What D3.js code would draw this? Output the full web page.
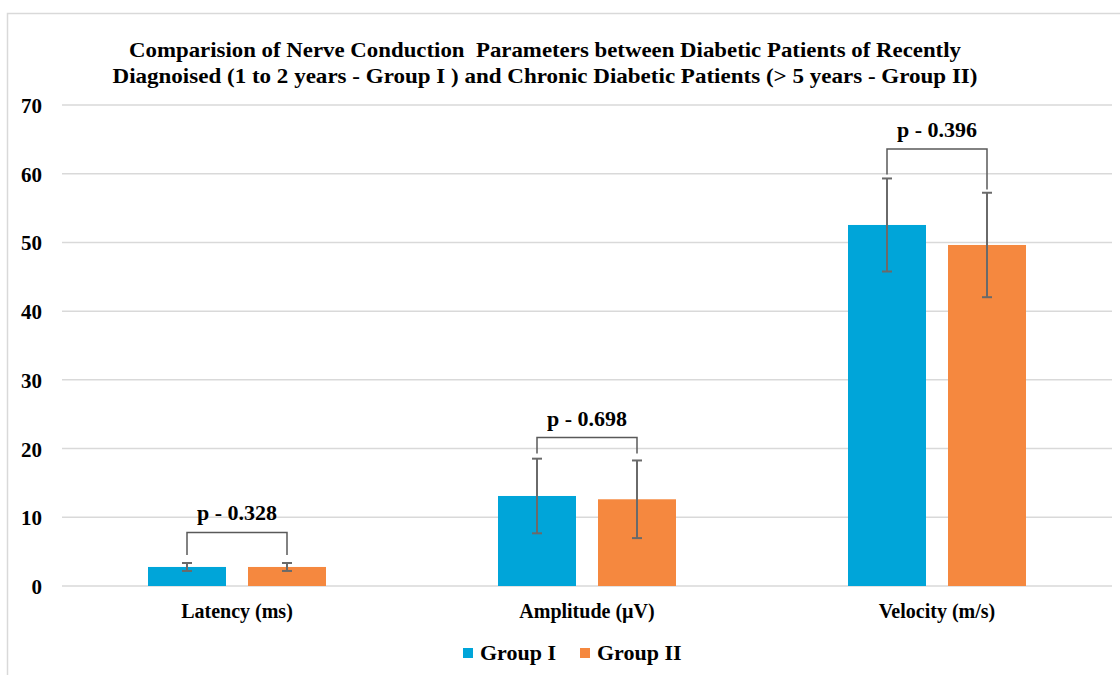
<!DOCTYPE html>
<html>
<head>
<meta charset="utf-8">
<script src="https://cdn.jsdelivr.net/npm/d3@7"></script>
<style>
  html, body { margin: 0; padding: 0; background: #fff; }
  svg { display: block; }
  svg text { font-family: "Liberation Serif", "Times New Roman", "DejaVu Serif", serif; font-weight: bold; }
</style>
</head>
<body>
<svg id="chart" width="1120" height="675"></svg>
<script>
// ---- data ----
const titleLines = [
  "Comparision of Nerve Conduction  Parameters between Diabetic Patients of Recently",
  "Diagnoised (1 to 2 years - Group I ) and Chronic Diabetic Patients (> 5 years - Group II)"
];
const categories = ["Latency (ms)", "Amplitude (\u00b5V)", "Velocity (m/s)"];
const groups = ["Group I", "Group II"];
const groupIMean = [2.77, 13.1, 52.54];
const groupISD   = [0.58, 5.43, 6.77];
const groupIIMean = [2.77, 12.62, 49.63];
const groupIISD   = [0.58, 5.65, 7.6];
const pLabels = ["p - 0.328", "p - 0.698", "p - 0.396"];
const bracketTop = [7.8, 21.6, 63.6];
const bracketLegLeft = [4.5, 19.3, 59.9];
const bracketLegRight = [4.5, 19.3, 57.7];
const yTicks = [0, 10, 20, 30, 40, 50, 60, 70];
const colors = ["#00A5D9", "#F5883F"];

// ---- layout ----
const FONT = '"Liberation Serif", "Times New Roman", "DejaVu Serif", serif';
const svg = d3.select("#chart");
const plotLeft = 62, plotRight = 1112, plotTop = 105, plotBottom = 586;

// outer frame
svg.append("rect")
  .attr("x", 7.5).attr("y", 13.5)
  .attr("width", 1130).attr("height", 700)
  .attr("fill", "none").attr("stroke", "#d9d9d9").attr("stroke-width", 1.5);

const x0 = d3.scaleBand().domain(categories).range([plotLeft, plotRight]).padding(0);
const x1 = d3.scaleBand().domain(groups).range([0, x0.bandwidth()])
  .paddingInner(0.22).paddingOuter(0.86);
const y = d3.scaleLinear().domain([0, 70]).range([plotBottom, plotTop]);

// gridlines
svg.append("g").selectAll("line").data(yTicks).join("line")
  .attr("x1", plotLeft).attr("x2", plotRight)
  .attr("y1", d => y(d)).attr("y2", d => y(d))
  .attr("stroke", "#d9d9d9").attr("stroke-width", 1.5);

// y axis labels
const yAxis = d3.axisLeft(y).tickValues(yTicks).tickSize(0).tickPadding(0);
const gy = svg.append("g").attr("transform", `translate(42,0)`).call(yAxis)
  .attr("font-family", FONT).attr("font-size", 21);
gy.select(".domain").remove();
gy.selectAll("text")
  .attr("font-family", FONT)
  .attr("font-weight", "bold").attr("font-size", 21).attr("fill", "#000")
  .attr("dy", "0.36em");

// data rows
const rows = categories.map((c, i) => ({
  cat: c,
  vals: [
    { g: groups[0], mean: groupIMean[i], sd: groupISD[i], color: colors[0] },
    { g: groups[1], mean: groupIIMean[i], sd: groupIISD[i], color: colors[1] }
  ]
}));

const catG = svg.append("g").selectAll("g").data(rows).join("g")
  .attr("transform", d => `translate(${x0(d.cat)},0)`);

// bars
catG.selectAll("rect").data(d => d.vals).join("rect")
  .attr("x", d => x1(d.g)).attr("width", x1.bandwidth())
  .attr("y", d => y(d.mean)).attr("height", d => y(0) - y(d.mean))
  .attr("fill", d => d.color);

// error bars
const errColor = "#6a6a6a";
const capW = 5;
const eb = catG.selectAll("g.err").data(d => d.vals).join("g").attr("class", "err")
  .attr("transform", d => `translate(${x1(d.g) + x1.bandwidth() / 2},0)`);
eb.append("line").attr("x1", 0).attr("x2", 0)
  .attr("y1", d => y(d.mean + d.sd)).attr("y2", d => y(d.mean - d.sd))
  .attr("stroke", errColor).attr("stroke-width", 2);
eb.append("line").attr("x1", -capW).attr("x2", capW)
  .attr("y1", d => y(d.mean + d.sd)).attr("y2", d => y(d.mean + d.sd))
  .attr("stroke", errColor).attr("stroke-width", 2);
eb.append("line").attr("x1", -capW).attr("x2", capW)
  .attr("y1", d => y(d.mean - d.sd)).attr("y2", d => y(d.mean - d.sd))
  .attr("stroke", errColor).attr("stroke-width", 2);

// brackets and p labels
const bracketColor = "#595959";
categories.forEach((c, i) => {
  const xl = x0(c) + x1(groups[0]) + x1.bandwidth() / 2;
  const xr = x0(c) + x1(groups[1]) + x1.bandwidth() / 2;
  const path = d3.path();
  path.moveTo(xl, y(bracketLegLeft[i]));
  path.lineTo(xl, y(bracketTop[i]));
  path.lineTo(xr, y(bracketTop[i]));
  path.lineTo(xr, y(bracketLegRight[i]));
  svg.append("path").attr("d", path.toString())
    .attr("fill", "none").attr("stroke", bracketColor).attr("stroke-width", 1.5);
  svg.append("text")
    .attr("x", (xl + xr) / 2).attr("y", y(bracketTop[i]) - 12)
    .attr("text-anchor", "middle").attr("font-family", FONT).attr("font-weight", "bold")
    .attr("font-size", 22).attr("fill", "#000")
    .text(pLabels[i]);
});

// category labels
svg.append("g").selectAll("text").data(categories).join("text")
  .attr("x", d => x0(d) + x0.bandwidth() / 2).attr("y", 618)
  .attr("text-anchor", "middle").attr("font-family", FONT).attr("font-weight", "bold")
  .attr("font-size", 20).attr("fill", "#000")
  .text(d => d);

// title
const titleWidths = [832, 865];
svg.append("g").selectAll("text").data(titleLines).join("text")
  .attr("x", (d, i) => 545 - titleWidths[i] / 2).attr("y", (d, i) => 57 + i * 26)
  .attr("font-family", FONT).attr("font-weight", "bold")
  .attr("font-size", 21).attr("fill", "#000")
  .attr("textLength", (d, i) => titleWidths[i]).attr("lengthAdjust", "spacingAndGlyphs")
  .style("white-space", "pre")
  .text(d => d);

// legend
const legendX = [463, 580];
const lg = svg.append("g").selectAll("g").data(groups).join("g")
  .attr("transform", (d, i) => `translate(${legendX[i]},648)`);
lg.append("rect").attr("width", 10).attr("height", 10).attr("fill", (d, i) => colors[i]);
lg.append("text").attr("x", 17).attr("y", 12)
  .attr("font-family", FONT).attr("font-weight", "bold")
  .attr("font-size", 22).attr("fill", "#000").text(d => d);
</script>
</body>
</html>
